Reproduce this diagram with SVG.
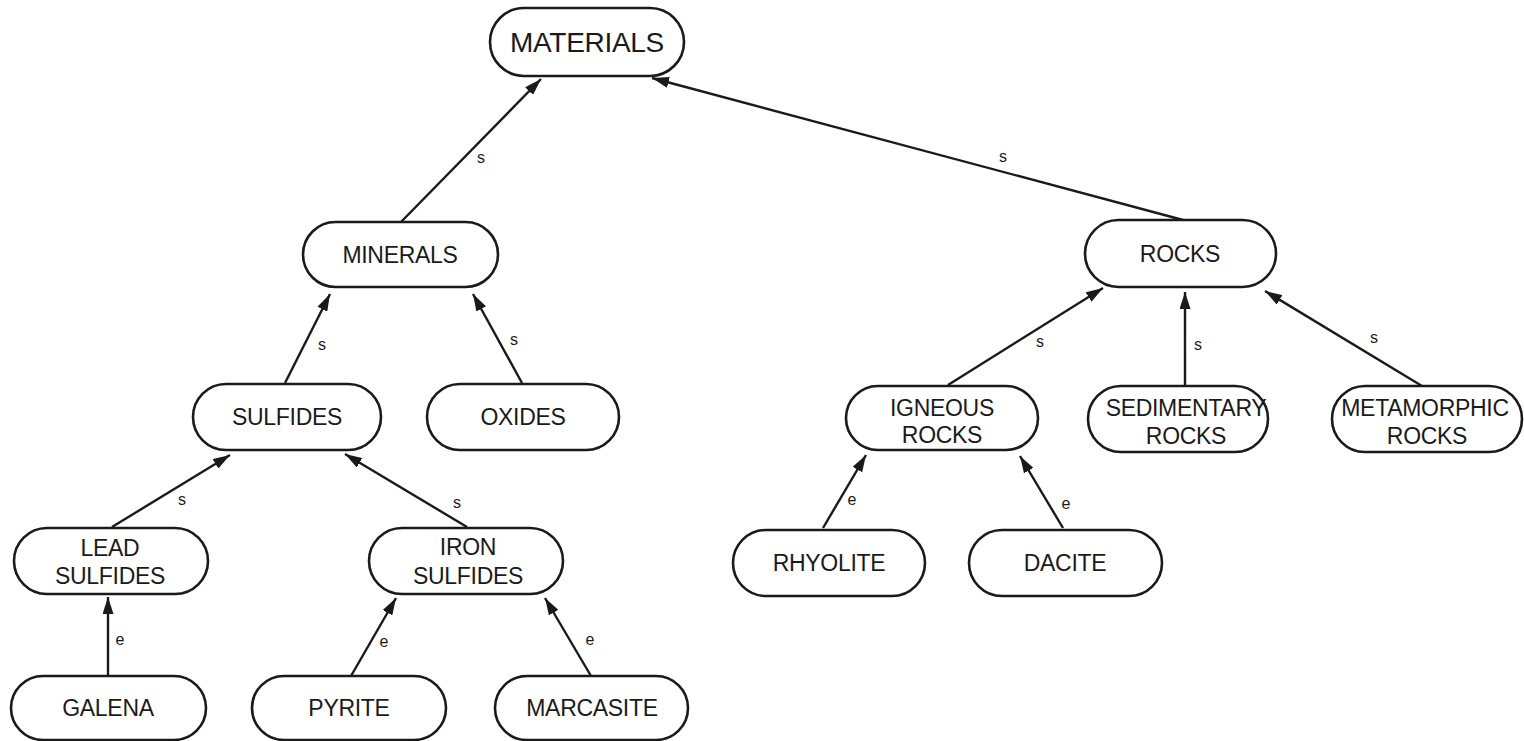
<svg xmlns="http://www.w3.org/2000/svg" width="1524" height="741" viewBox="0 0 1524 741">
<style>
.n rect{fill:#fff;stroke:#1a1a1a;stroke-width:2.6}
.n text{font-family:"Liberation Sans",Arial,sans-serif;font-size:23px;fill:#1a1a1a;text-anchor:middle;letter-spacing:-0.3px}
.e line{stroke:#1a1a1a;stroke-width:2.4;marker-end:url(#ah)}
.e text{font-family:"Liberation Sans",Arial,sans-serif;font-size:16px;fill:#1a1a1a;text-anchor:middle}
</style>
<defs>
<marker id="ah" viewBox="0 0 17 11" refX="17" refY="5.5" markerWidth="17" markerHeight="11" markerUnits="userSpaceOnUse" orient="auto">
<path d="M0,0 L17,5.5 L0,11 Z" fill="#1a1a1a"/>
</marker>
</defs>
<rect width="1524" height="741" fill="#fff"/>
<g id="connectors" class="e">
<line x1="401" y1="222" x2="541" y2="79"/><text x="481" y="163">s</text>
<line x1="1183" y1="220" x2="652" y2="78"/><text x="1003" y="162">s</text>
<line x1="285" y1="383" x2="330" y2="294"/><text x="322" y="350">s</text>
<line x1="522" y1="383" x2="473" y2="294"/><text x="514" y="345">s</text>
<line x1="112" y1="527" x2="230" y2="455"/><text x="182" y="505">s</text>
<line x1="467" y1="527" x2="345" y2="454"/><text x="457" y="508">s</text>
<line x1="108" y1="676" x2="108" y2="597"/><text x="120" y="645">e</text>
<line x1="351" y1="676" x2="396" y2="598"/><text x="384" y="647">e</text>
<line x1="591" y1="676" x2="545" y2="598"/><text x="590" y="645">e</text>
<line x1="948" y1="385" x2="1103" y2="288"/><text x="1040" y="347">s</text>
<line x1="1185" y1="386" x2="1185" y2="292"/><text x="1198" y="350">s</text>
<line x1="1422" y1="386" x2="1265" y2="291"/><text x="1374" y="343">s</text>
<line x1="823" y1="528" x2="866" y2="455"/><text x="852" y="505">e</text>
<line x1="1063" y1="528" x2="1020" y2="456"/><text x="1066" y="509">e</text>
</g>
<g id="materials" class="n"><rect x="490" y="8" width="194" height="68" rx="34"/><text x="587" y="52" style="font-size:28px">MATERIALS</text></g>
<g id="minerals" class="n"><rect x="303" y="222" width="195" height="65" rx="32.5"/><text x="400" y="263">MINERALS</text></g>
<g id="rocks" class="n"><rect x="1085" y="220" width="191" height="67" rx="33.5"/><text x="1180" y="262">ROCKS</text></g>
<g id="sulfides" class="n"><rect x="193" y="384" width="188" height="66" rx="33"/><text x="287" y="425">SULFIDES</text></g>
<g id="oxides" class="n"><rect x="427" y="384" width="192" height="66" rx="33"/><text x="523" y="425">OXIDES</text></g>
<g id="igneous-rocks" class="n"><rect x="846" y="386" width="192" height="64" rx="32"/><text x="942" y="416">IGNEOUS</text><text x="942" y="443">ROCKS</text></g>
<g id="sedimentary-rocks" class="n"><rect x="1088" y="386" width="180" height="66" rx="33"/><text x="1186" y="416">SEDIMENTARY</text><text x="1186" y="444">ROCKS</text></g>
<g id="metamorphic-rocks" class="n"><rect x="1332" y="386" width="190" height="66" rx="33"/><text x="1425" y="416">METAMORPHIC</text><text x="1427" y="444">ROCKS</text></g>
<g id="lead-sulfides" class="n"><rect x="14" y="528" width="194" height="66" rx="33"/><text x="110" y="556">LEAD</text><text x="110" y="584">SULFIDES</text></g>
<g id="iron-sulfides" class="n"><rect x="369" y="528" width="194" height="66" rx="33"/><text x="468" y="555">IRON</text><text x="468" y="584">SULFIDES</text></g>
<g id="rhyolite" class="n"><rect x="733" y="530" width="192" height="66" rx="33"/><text x="829" y="571">RHYOLITE</text></g>
<g id="dacite" class="n"><rect x="969" y="530" width="193" height="66" rx="33"/><text x="1065" y="571">DACITE</text></g>
<g id="galena" class="n"><rect x="11" y="676" width="195" height="64" rx="32"/><text x="108" y="716">GALENA</text></g>
<g id="pyrite" class="n"><rect x="252" y="676" width="194" height="64" rx="32"/><text x="349" y="716">PYRITE</text></g>
<g id="marcasite" class="n"><rect x="495" y="676" width="193" height="64" rx="32"/><text x="592" y="716">MARCASITE</text></g>
</svg>
